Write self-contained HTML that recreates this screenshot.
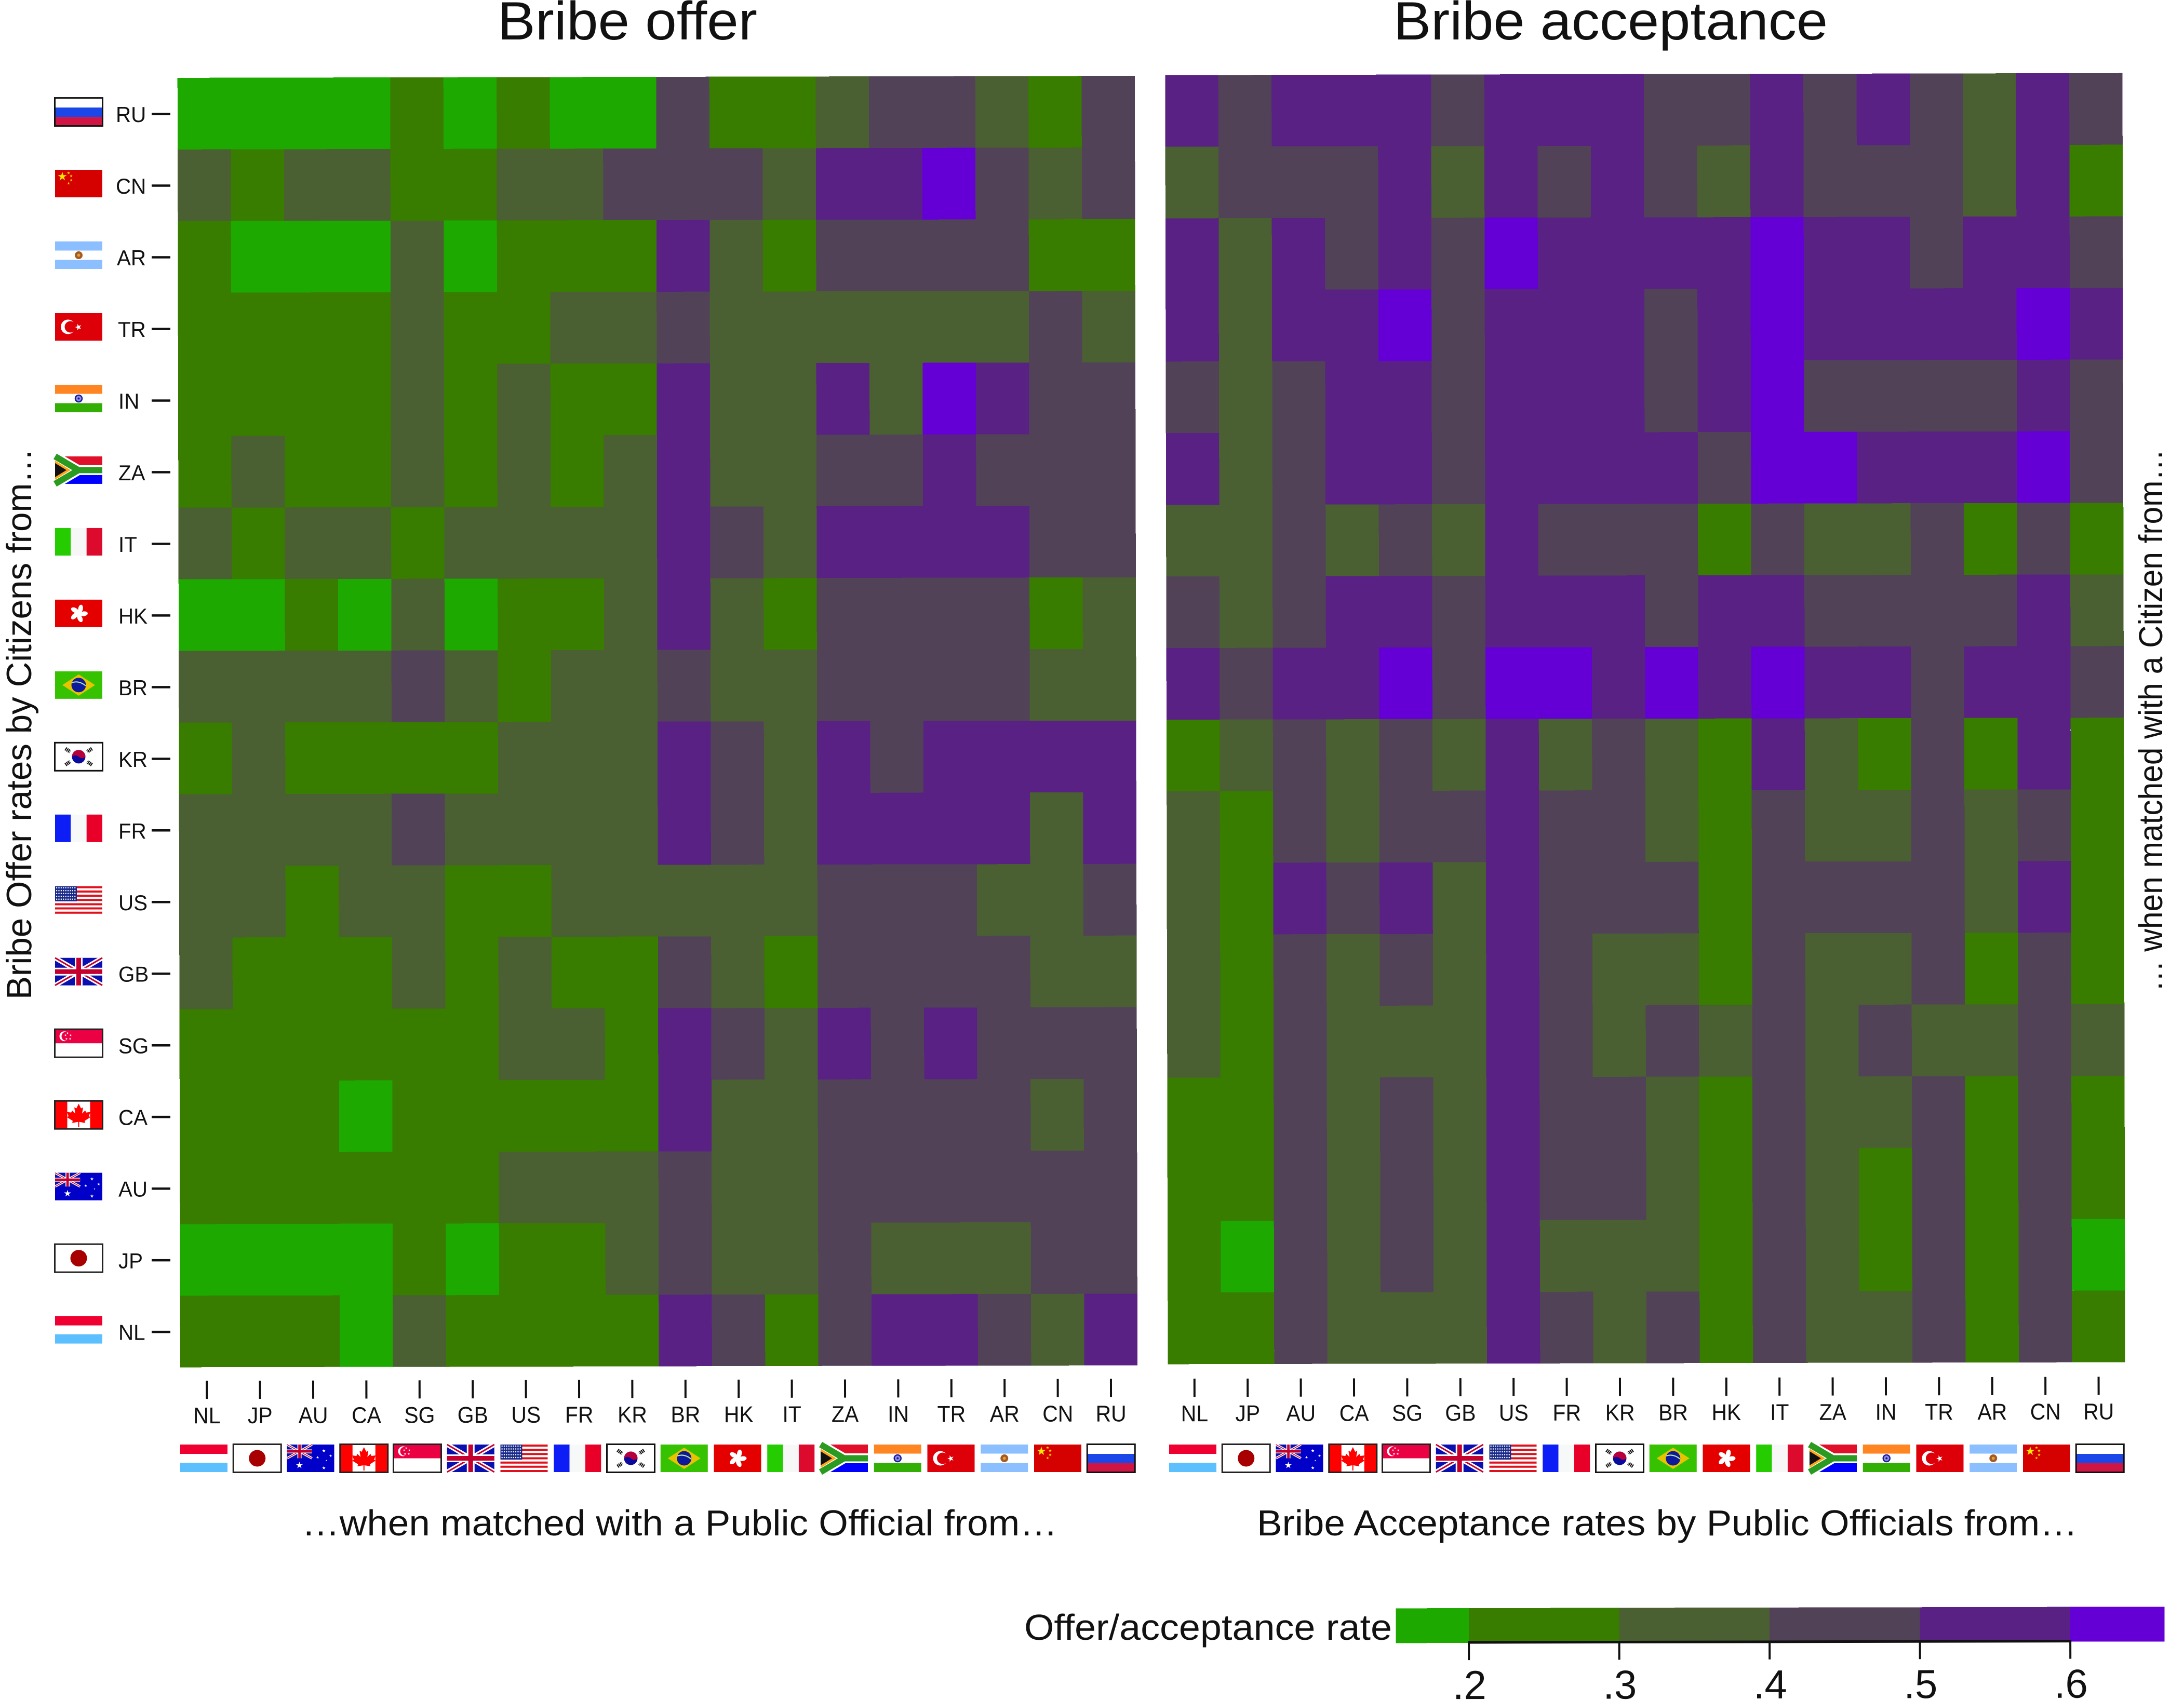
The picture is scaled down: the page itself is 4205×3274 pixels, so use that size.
<!DOCTYPE html>
<html lang="en">
<head>
<meta charset="utf-8">
<title>Bribe offer and bribe acceptance rates</title>
<style>
html,body{margin:0;padding:0;background:#fff;width:4205px;height:3274px;overflow:hidden}
svg{display:block}
text{font-family:"Liberation Sans",Arial,sans-serif;fill:#111}
.cell{shape-rendering:crispEdges}
</style>
</head>
<body>
<svg id="chart" xmlns="http://www.w3.org/2000/svg" width="4205" height="3274" viewBox="0 0 4205 3274">
<defs>
<polygon id="star" points="0,-1 .224,-.309 .951,-.309 .363,.118 .588,.809 0,.382 -.588,.809 -.363,.118 -.951,-.309 -.224,-.309"/>
<g id="gb-art">
<rect width="91" height="53" fill="#0a10b0"/>
<path d="M0,0L91,53M91,0L0,53" stroke="#fff" stroke-width="9" fill="none"/>
<path d="M0,0L91,53M91,0L0,53" stroke="#c4002f" stroke-width="3" fill="none"/>
<path d="M45.5,0V53M0,26.5H91" stroke="#fff" stroke-width="15" fill="none"/>
<path d="M45.5,0V53M0,26.5H91" stroke="#c4002f" stroke-width="9" fill="none"/>
</g>
<symbol id="flag-RU" viewBox="0 0 91 53" preserveAspectRatio="none" overflow="visible">
<rect width="91" height="18" fill="#fff"/><rect y="18" width="91" height="18" fill="#1b47e8"/><rect y="36" width="91" height="17" fill="#d01444"/>
<rect x="-.5" y="-.5" width="92" height="54" fill="none" stroke="#111" stroke-width="3"/>
</symbol>
<symbol id="flag-CN" viewBox="0 0 91 53" preserveAspectRatio="none" overflow="visible">
<rect width="91" height="53" fill="#d50000"/>
<use href="#star" fill="#ffe600" transform="translate(14,13) scale(9)"/>
<use href="#star" fill="#ffe600" transform="translate(26,6) scale(3)"/>
<use href="#star" fill="#ffe600" transform="translate(31,12) scale(3)"/>
<use href="#star" fill="#ffe600" transform="translate(31,20) scale(3)"/>
<use href="#star" fill="#ffe600" transform="translate(26,26) scale(3)"/>
</symbol>
<symbol id="flag-AR" viewBox="0 0 91 53" preserveAspectRatio="none" overflow="visible">
<rect width="91" height="53" fill="#fff"/><rect width="91" height="17.5" fill="#8bbfff"/><rect y="35.5" width="91" height="17.5" fill="#8bbfff"/>
<circle cx="45.5" cy="26.5" r="7.5" fill="#a85a1e"/><circle cx="45.5" cy="26.5" r="3" fill="#d8a04a"/>
</symbol>
<symbol id="flag-TR" viewBox="0 0 91 53" preserveAspectRatio="none" overflow="visible">
<rect width="91" height="53" fill="#de0009"/>
<circle cx="25" cy="26.5" r="14" fill="#fff"/><circle cx="29.5" cy="26.5" r="11" fill="#de0009"/>
<use href="#star" fill="#fff" transform="translate(45,27) rotate(-90) scale(6.5)"/>
</symbol>
<symbol id="flag-IN" viewBox="0 0 91 53" preserveAspectRatio="none" overflow="visible">
<rect width="91" height="53" fill="#fff"/><rect width="91" height="17.5" fill="#ff8522"/><rect y="35.5" width="91" height="17.5" fill="#33ae04"/>
<circle cx="45.5" cy="26.5" r="6.5" fill="#8f8fe0" stroke="#1a1a9c" stroke-width="2.5"/><circle cx="45.5" cy="26.5" r="2" fill="#1a1a9c"/>
</symbol>
<symbol id="flag-ZA" viewBox="0 0 91 53" preserveAspectRatio="none" overflow="visible">
<rect width="91" height="26.5" fill="#e0102a"/><rect y="26.5" width="91" height="26.5" fill="#0000ff"/>
<path d="M0,0L45,26.5L0,53M45,26.5H91" fill="none" stroke="#fff" stroke-width="19"/>
<path d="M0,0L45,26.5L0,53M45,26.5H91" fill="none" stroke="#2a9a20" stroke-width="12"/>
<polygon points="0,8 30,26.5 0,45" fill="#ffa514"/><polygon points="0,13 22,26.5 0,40" fill="#111"/>
</symbol>
<symbol id="flag-IT" viewBox="0 0 91 53" preserveAspectRatio="none" overflow="visible">
<rect width="30.3" height="53" fill="#24cc00"/><rect x="30.3" width="30.4" height="53" fill="#f7f7f7"/><rect x="60.7" width="30.3" height="53" fill="#dc0a2c"/>
</symbol>
<symbol id="flag-HK" viewBox="0 0 91 53" preserveAspectRatio="none" overflow="visible">
<rect width="91" height="53" fill="#e50000"/>
<g fill="#fff" transform="translate(45.5,26.5)">
<ellipse cx="2" cy="-9.5" rx="4.6" ry="7.8" transform="rotate(10)"/><ellipse cx="2" cy="-9.5" rx="4.6" ry="7.8" transform="rotate(82)"/><ellipse cx="2" cy="-9.5" rx="4.6" ry="7.8" transform="rotate(154)"/><ellipse cx="2" cy="-9.5" rx="4.6" ry="7.8" transform="rotate(226)"/><ellipse cx="2" cy="-9.5" rx="4.6" ry="7.8" transform="rotate(298)"/>
<circle r="3.5"/>
</g>
</symbol>
<symbol id="flag-BR" viewBox="0 0 91 53" preserveAspectRatio="none" overflow="visible">
<rect width="91" height="53" fill="#36c200"/><polygon points="14,26.5 45.5,6 77,26.5 45.5,47" fill="#e8c400"/>
<circle cx="45.5" cy="26.5" r="14" fill="#0e1a9c"/><path d="M32,22Q46,17 59,28" fill="none" stroke="#bfe8a0" stroke-width="2"/>
</symbol>
<symbol id="flag-KR" viewBox="0 0 91 53" preserveAspectRatio="none" overflow="visible">
<rect width="91" height="53" fill="#fff"/>
<circle cx="45.5" cy="26.5" r="13" fill="#0a0a9c"/><path d="M32.5,26.5A13,13 0 0 1 58.5,26.5Q52,32 45.5,26.5T32.5,26.5Z" fill="#b8003a"/>
<g stroke="#111" stroke-width="7" stroke-dasharray="2.2 1.2" fill="none"><path d="M20,11L29,17"/><path d="M71,11L62,17"/><path d="M20,42L29,36"/><path d="M71,42L62,36"/></g>
<rect x="-.5" y="-.5" width="92" height="54" fill="none" stroke="#111" stroke-width="3"/>
</symbol>
<symbol id="flag-FR" viewBox="0 0 91 53" preserveAspectRatio="none" overflow="visible">
<rect width="30.3" height="53" fill="#0c1ef5"/><rect x="30.3" width="30.4" height="53" fill="#f7f9f9"/><rect x="60.7" width="30.3" height="53" fill="#e80028"/>
</symbol>
<symbol id="flag-US" viewBox="0 0 91 53" preserveAspectRatio="none" overflow="visible">
<rect width="91" height="53" fill="#fff"/>
<path d="M0,2H91M0,10.2H91M0,18.3H91M0,26.5H91M0,34.7H91M0,42.8H91M0,51H91" stroke="#e0101c" stroke-width="4"/>
<rect width="42" height="29" fill="#1a2a8a"/>
<path d="M2,3H41M2,8.5H41M2,14H41M2,19.5H41M2,25H41" stroke="#fff" stroke-width="2.2" stroke-dasharray="2.2 2.2" fill="none"/>
</symbol>
<symbol id="flag-GB" viewBox="0 0 91 53" preserveAspectRatio="none" overflow="visible"><use href="#gb-art"/></symbol>
<symbol id="flag-SG" viewBox="0 0 91 53" preserveAspectRatio="none" overflow="visible">
<rect width="91" height="53" fill="#fff"/><rect width="91" height="26.5" fill="#ec0044"/>
<circle cx="18" cy="13" r="9.5" fill="#fff"/><circle cx="21" cy="13" r="8.5" fill="#ec0044"/>
<use href="#star" fill="#fff" transform="translate(24,7) scale(2.5)"/><use href="#star" fill="#fff" transform="translate(30,11) scale(2.5)"/><use href="#star" fill="#fff" transform="translate(29,18) scale(2.5)"/><use href="#star" fill="#fff" transform="translate(22,18) scale(2.5)"/><use href="#star" fill="#fff" transform="translate(20,11) scale(2.5)"/>
<rect x="-.5" y="-.5" width="92" height="54" fill="none" stroke="#222" stroke-width="3"/>
</symbol>
<symbol id="flag-CA" viewBox="0 0 91 53" preserveAspectRatio="none" overflow="visible">
<rect width="91" height="53" fill="#fff"/><rect width="23.5" height="53" fill="#f00"/><rect x="67.5" width="23.5" height="53" fill="#f00"/>
<polygon points="45.5,5 50,14 54,12 52,24 58,18 60,22 68,21 65,29 68,31 57,38 58,42 46.5,40 46.5,50 44.5,50 44.5,40 33,42 34,38 23,31 26,29 23,21 31,22 33,18 39,24 37,12 41,14" fill="#f00"/>
<rect x="-.5" y="-.5" width="92" height="54" fill="none" stroke="#222" stroke-width="3"/>
</symbol>
<symbol id="flag-AU" viewBox="0 0 91 53" preserveAspectRatio="none" overflow="visible">
<rect width="91" height="53" fill="#0000c8"/>
<use href="#gb-art" transform="scale(.53,.5)"/>
<use href="#star" fill="#fff" transform="translate(24,40) scale(7)"/>
<use href="#star" fill="#fff" transform="translate(71,12) scale(3.5)"/><use href="#star" fill="#fff" transform="translate(59,25) scale(3)"/><use href="#star" fill="#fff" transform="translate(84,22) scale(3)"/><use href="#star" fill="#fff" transform="translate(76,31) scale(1.8)"/><use href="#star" fill="#fff" transform="translate(71,45) scale(3.5)"/>
</symbol>
<symbol id="flag-JP" viewBox="0 0 91 53" preserveAspectRatio="none" overflow="visible">
<rect width="91" height="53" fill="#fff"/><ellipse cx="45.5" cy="26.5" rx="16" ry="16" fill="#a80000"/>
<rect x="-.5" y="-.5" width="92" height="54" fill="none" stroke="#222" stroke-width="3"/>
</symbol>
<symbol id="flag-NL" viewBox="0 0 91 53" preserveAspectRatio="none" overflow="visible">
<rect width="91" height="53" fill="#fff"/><rect width="91" height="18" fill="#f00030"/><rect y="35" width="91" height="18" fill="#5cc0ff"/>
</symbol>
</defs>

<text x="958" y="76" font-size="104" textLength="500" lengthAdjust="spacingAndGlyphs">Bribe offer</text>
<text x="2683" y="76" font-size="104" textLength="836" lengthAdjust="spacingAndGlyphs">Bribe acceptance</text>

<text x="581" y="2957" font-size="70" textLength="1455" lengthAdjust="spacingAndGlyphs">…when matched with a Public Official from…</text>
<text x="2420" y="2957" font-size="70" textLength="1580" lengthAdjust="spacingAndGlyphs">Bribe Acceptance rates by Public Officials from…</text>

<text transform="translate(60,1925) rotate(-90)" font-size="68" textLength="1062" lengthAdjust="spacingAndGlyphs">Bribe Offer rates by Citizens from…</text>
<text transform="translate(4163,1910) rotate(-90)" font-size="64" textLength="1045" lengthAdjust="spacingAndGlyphs">… when matched with a Citizen from…</text>

<text x="1972" y="3158" font-size="70" textLength="708" lengthAdjust="spacingAndGlyphs">Offer/acceptance rate</text>

<g id="tilted" transform="rotate(-0.12)"></g>
<g id="flat"></g>
</svg>

<script>
const rowCodes = ['RU','CN','AR','TR','IN','ZA','IT','HK','BR','KR','FR','US','GB','SG','CA','AU','JP','NL'];
const colCodes = ['NL','JP','AU','CA','SG','GB','US','FR','KR','BR','HK','IT','ZA','IN','TR','AR','CN','RU'];

const offerRates = [
[.15,.15,.15,.15,.25,.15,.25,.15,.15,.45,.25,.25,.35,.45,.45,.35,.25,.45],
[.35,.25,.35,.35,.25,.25,.35,.35,.45,.45,.45,.35,.55,.55,.65,.45,.35,.45],
[.25,.15,.15,.15,.35,.15,.25,.25,.25,.55,.35,.25,.45,.45,.45,.45,.25,.25],
[.25,.25,.25,.25,.35,.25,.25,.35,.35,.45,.35,.35,.35,.35,.35,.35,.45,.35],
[.25,.25,.25,.25,.35,.25,.35,.25,.25,.55,.35,.35,.55,.35,.65,.55,.45,.45],
[.25,.35,.25,.25,.35,.25,.35,.25,.35,.55,.35,.35,.45,.45,.55,.45,.45,.45],
[.35,.25,.35,.35,.25,.35,.35,.35,.35,.55,.45,.35,.55,.55,.55,.55,.45,.45],
[.15,.15,.25,.15,.35,.15,.25,.25,.35,.55,.35,.25,.45,.45,.45,.45,.25,.35],
[.35,.35,.35,.35,.45,.35,.25,.35,.35,.45,.35,.35,.45,.45,.45,.45,.35,.35],
[.25,.35,.25,.25,.25,.25,.35,.35,.35,.55,.45,.35,.55,.45,.55,.55,.55,.55],
[.35,.35,.35,.35,.45,.35,.35,.35,.35,.55,.45,.35,.55,.55,.55,.55,.35,.55],
[.35,.35,.25,.35,.35,.25,.25,.35,.35,.35,.35,.35,.45,.45,.45,.35,.35,.45],
[.35,.25,.25,.25,.35,.25,.35,.25,.25,.45,.35,.25,.45,.45,.45,.45,.35,.35],
[.25,.25,.25,.25,.25,.25,.35,.35,.25,.55,.45,.35,.55,.45,.55,.45,.45,.45],
[.25,.25,.25,.15,.25,.25,.25,.25,.25,.55,.35,.35,.45,.45,.45,.45,.35,.45],
[.25,.25,.25,.25,.25,.25,.35,.35,.35,.45,.35,.35,.45,.45,.45,.45,.45,.45],
[.15,.15,.15,.15,.25,.15,.25,.25,.35,.45,.35,.35,.45,.35,.35,.35,.45,.45],
[.25,.25,.25,.15,.35,.25,.25,.25,.25,.55,.45,.25,.45,.55,.55,.45,.35,.55]
];

const acceptanceRates = [
[.55,.45,.55,.55,.55,.45,.55,.55,.55,.45,.45,.55,.45,.55,.45,.35,.55,.45],
[.35,.45,.45,.45,.55,.35,.55,.45,.55,.45,.35,.55,.45,.45,.45,.35,.55,.25],
[.55,.35,.55,.45,.55,.45,.65,.55,.55,.55,.55,.65,.55,.55,.45,.55,.55,.45],
[.55,.35,.55,.55,.65,.45,.55,.55,.55,.45,.55,.65,.55,.55,.55,.55,.65,.55],
[.45,.35,.45,.55,.55,.45,.55,.55,.55,.45,.55,.65,.45,.45,.45,.45,.55,.45],
[.55,.35,.45,.55,.55,.45,.55,.55,.55,.55,.45,.65,.65,.55,.55,.55,.65,.45],
[.35,.35,.45,.35,.45,.35,.55,.45,.45,.45,.25,.45,.35,.35,.45,.25,.45,.25],
[.45,.35,.45,.55,.55,.45,.55,.55,.55,.45,.55,.55,.45,.45,.45,.45,.55,.35],
[.55,.45,.55,.55,.65,.45,.65,.65,.55,.65,.55,.65,.55,.55,.45,.55,.55,.45],
[.25,.35,.45,.35,.45,.35,.55,.35,.45,.35,.25,.55,.35,.25,.45,.25,.55,.25],
[.35,.25,.45,.35,.45,.45,.55,.45,.45,.35,.25,.45,.35,.35,.45,.35,.45,.25],
[.35,.25,.55,.45,.55,.35,.55,.45,.45,.45,.25,.45,.45,.45,.45,.35,.55,.25],
[.35,.25,.45,.35,.45,.35,.55,.45,.35,.35,.25,.45,.35,.35,.45,.25,.45,.25],
[.35,.25,.45,.35,.35,.35,.55,.45,.35,.45,.35,.45,.35,.45,.35,.35,.45,.35],
[.25,.25,.45,.35,.45,.35,.55,.45,.45,.35,.25,.45,.35,.35,.45,.25,.45,.25],
[.25,.25,.45,.35,.45,.35,.55,.45,.45,.35,.25,.45,.35,.25,.45,.25,.45,.25],
[.25,.15,.45,.35,.45,.35,.55,.35,.35,.35,.25,.45,.35,.25,.45,.25,.45,.15],
[.25,.25,.45,.35,.35,.35,.55,.45,.35,.45,.25,.45,.35,.35,.45,.25,.45,.25]
];

const legendTicks = [.2,.3,.4,.5,.6];
const legendTickLabels = ['.2','.3','.4','.5','.6'];
const legendRange = [.1515,.6627];

const palette = ['#1da900','#387c00','#4a5f32','#524258','#582183','#6400d6'];

const NS = 'http://www.w3.org/2000/svg';
const tilted = document.getElementById('tilted');
const flat = document.getElementById('flat');

const panels = [
  {name:'offer', rates:offerRates, left:341.4, top:150.6, cw:102.4, ch:137.97, flagLeft:347},
  {name:'acceptance', rates:acceptanceRates, left:2243, top:149.3, cw:102.4, ch:137.93, flagLeft:2251}
];

function rateColor(v){
  let bin = 0;
  for (const t of legendTicks) { if (v >= t) bin++; }
  return palette[bin];
}
function bandX(p,i){ return p.left + i*p.cw; }
function bandY(p,r){ return p.top + r*p.ch; }
function legendX(v){ return 2821.5 + (v-.2)*2895; }

function mk(tag,parent,attrs){
  const el = document.createElementNS(NS,tag);
  for (const k in attrs) el.setAttribute(k,attrs[k]);
  parent.appendChild(el);
  return el;
}

/* heatmap cells, x ticks, x labels, bottom flags */
panels.forEach(function(p){
  const g = mk('g',tilted,{});
  
  
  p.rates.forEach(function(row,r){
    row.forEach(function(v,c){
      const cell = mk('rect',g,{x:bandX(p,c),y:bandY(p,r),width:p.cw,height:p.ch,fill:rateColor(v),class:'cell'});
      
      
    });
  });
  colCodes.forEach(function(code,c){
    const cx = bandX(p,c)+p.cw/2;
    const tick = mk('line',tilted,{x1:cx,x2:cx,y1:2660,y2:2695,stroke:'#111','stroke-width':4});
    
    
    const lab = mk('text',tilted,{transform:'translate('+cx+',2742) scale(.93,1)','font-size':44,'text-anchor':'middle'});
    lab.textContent = code;
    
    
    const fl = mk('use',flat,{href:'#flag-'+code,x:p.flagLeft+102.75*c,y:2782,width:91,height:53});
    
    
  });
});

/* row ticks, labels, flags */
const yLabelNudge = {RU:-5,CN:-5,AR:-3,TR:-1};
rowCodes.forEach(function(code,r){
  const cy = bandY(panels[0],r)+panels[0].ch/2;
  const tick = mk('line',flat,{x1:292,x2:328,y1:cy,y2:cy,stroke:'#111','stroke-width':4.5});
  
  
  const lab = mk('text',flat,{transform:'translate('+(228+(yLabelNudge[code]||0))+','+(cy+15.5)+') scale(.96,1)','font-size':42});
  lab.textContent = code;
  
  
  const fl = mk('use',flat,{href:'#flag-'+code,x:106,y:cy-30.5,width:91,height:53});
  
  
});

/* colour legend */
const bar = mk('g',tilted,{});


const legendEdges = [legendRange[0]].concat(legendTicks,[legendRange[1]]);
legendEdges.slice(0,-1).forEach(function(lo,i){
  const hi = legendEdges[i+1];
  const seg = mk('rect',bar,{x:legendX(lo),y:3103,width:legendX(hi)-legendX(lo),height:67,fill:rateColor((lo+hi)/2),class:'cell'});
  
  
});
const axisLine = mk('line',bar,{x1:legendX(legendTicks[0])-2,x2:legendX(legendTicks[legendTicks.length-1])+2,y1:3169,y2:3169,stroke:'#111','stroke-width':5});


legendTicks.forEach(function(v,i){
  const tx = legendX(v);
  const tick = mk('line',bar,{x1:tx,x2:tx,y1:3167,y2:3203,stroke:'#111','stroke-width':4});
  
  
  const lab = mk('text',bar,{x:tx+1,y:3278,'font-size':78,'text-anchor':'middle'});
  lab.textContent = legendTickLabels[i];
  
  
});
</script>
</body>
</html>
